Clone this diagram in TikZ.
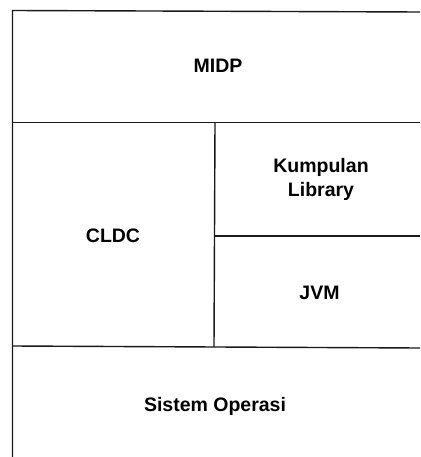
\documentclass[tikz,border=0pt]{standalone}
\usepackage{fontspec}
\setmainfont{Liberation Sans}
\begin{document}
\begin{tikzpicture}[x=1pt,y=-1pt,
  rule/.style={line width=1.4pt,black!90},
  label/.style={font=\fontsize{19.5}{24}\selectfont\bfseries,align=center,inner sep=0pt}]
\useasboundingbox (0,0) rectangle (420,457);
% outer frame: left side and top, open to the right and bottom
\draw[rule] (12.5,457) -- (12.5,10.5) -- (420,12);
% layer boundaries
\draw[rule] (12.5,122.5) -- (420,122.5);
\draw[rule] (215,122.5) -- (214,347);
\draw[rule] (215,236) -- (420,236);
\draw[rule] (12.5,346) -- (420,348);
% layer names
\node[label] (midp) at (218,65.5) {MIDP};
\node[label] (lib)  at (321,179) {Kumpulan\\Library};
\node[label] (cldc) at (113,236) {CLDC};
\node[label] (jvm)  at (319.5,293) {JVM};
\node[label] (os)   at (215,406) {Sistem Operasi};
\end{tikzpicture}
\end{document}
